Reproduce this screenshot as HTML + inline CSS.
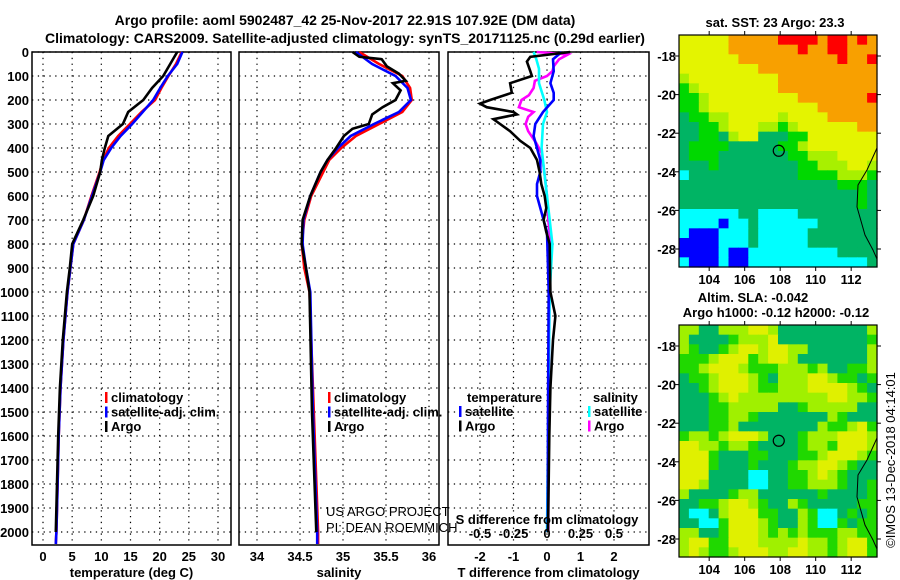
<!DOCTYPE html>
<html><head><meta charset="utf-8">
<style>
html,body{margin:0;padding:0;background:#fff;}
svg{display:block;font-family:"Liberation Sans",sans-serif;}
.b{font-weight:bold;font-size:13px;}
.t{font-weight:bold;font-size:14px;}
</style></head>
<body>
<svg id="chart" width="900" height="580" viewBox="0 0 900 580">
<text class="t" x="345" y="25" text-anchor="middle">Argo profile: aoml 5902487_42 25-Nov-2017 22.91S 107.92E (DM data)</text>
<text class="t" x="345" y="43" text-anchor="middle">Climatology: CARS2009. Satellite-adjusted climatology: synTS_20171125.nc (0.29d earlier)</text>
<g id="layer"></g>
</svg>
<script>
// ---- data ----
const depthT = [0,50,100,150,200,250,300,350,400,450,500,600,700,800,900,1000,1200,1400,1600,1800,2000,2050];
const tempClim = [23.8,22.8,21.5,20.3,19.2,16.9,14.9,12.9,11.3,10.3,9.7,8.3,7.0,5.2,4.7,4.2,3.5,3.0,2.7,2.5,2.3,2.2];
const tempSat  = [23.9,23.0,21.4,20.1,18.9,17.1,15.3,13.3,11.7,10.4,9.8,8.4,7.0,5.2,4.7,4.2,3.5,3.0,2.7,2.5,2.3,2.2];
const depthArgoT = [0,50,100,150,200,250,300,350,400,450,500,600,700,800,900,1000,1200,1400,1600,1800,2000];
const tempArgo = [23.0,21.8,20.6,18.7,17.2,14.6,13.7,11.2,10.6,10.1,9.8,8.6,6.9,5.0,4.6,4.1,3.4,2.9,2.6,2.4,2.2];

const depthS = [0,50,100,150,200,250,300,350,400,450,500,600,700,800,900,1000,1500,2000,2050];
const salClim = [35.19,35.42,35.69,35.78,35.80,35.69,35.42,35.15,34.98,34.84,34.77,34.63,34.55,34.52,34.55,34.61,34.66,34.71,34.71];
const salSat  = [35.15,35.34,35.61,35.75,35.79,35.65,35.36,35.09,34.94,34.82,34.74,34.62,34.54,34.53,34.57,34.62,34.65,34.70,34.70];
const depthArgoS = [0,20,30,60,90,120,130,160,200,230,260,300,320,350,400,450,500,600,700,800,900,1000,1500,2000];
const salArgo = [35.11,35.19,35.45,35.51,35.65,35.73,35.58,35.67,35.61,35.46,35.34,35.30,35.11,35.01,34.92,34.82,34.74,34.62,34.53,34.52,34.57,34.61,34.64,34.69];

const depthDT = [0,20,40,80,100,130,170,200,215,230,250,260,280,300,330,370,400,450,500,550,600,650,700,750,800,1000,1100,1200,1400,1600,2000];
const dTArgo = [0.69,-0.5,-0.6,-0.5,-0.45,-1.1,-1.05,-1.7,-2.0,-1.8,-1.0,-0.9,-1.6,-1.4,-1.1,-0.8,-0.5,-0.3,-0.22,-0.17,-0.07,-0.02,-0.1,-0.02,0.08,0.1,0.25,0.18,0.1,0.07,0.03];
const depthDTs = [0,30,80,130,170,200,250,300,350,400,450,500,550,600,650,700,750,1000,1500,2000];
const dTSat = [0.44,0.18,0.2,0.1,0.2,0.2,-0.12,-0.35,-0.4,-0.3,-0.2,-0.2,-0.3,-0.3,-0.2,-0.1,0.0,0.05,0.03,0.02];
const depthDS = [0,10,30,60,80,100,120,150,180,200,230,250,270,300,330,380,420,500,600,700,800,1000,1500,2000];
const dSArgo = [-0.077,0.157,0.09,0.05,0.04,0.0,-0.09,-0.1,-0.135,-0.19,-0.21,-0.1,-0.14,-0.16,-0.14,-0.08,-0.04,-0.02,0.0,0.01,0.03,0.02,0.01,0.01];
const depthDSs = [0,30,70,130,200,250,300,400,500,600,700,800,1000,1500,2000];
const dSSat = [-0.1,-0.08,-0.06,-0.06,-0.02,0.0,-0.03,-0.04,-0.02,0.0,0.02,0.04,0.02,0.01,0.0];

const depthTicks = [0,100,200,300,400,500,600,700,800,900,1000,1100,1200,1300,1400,1500,1600,1700,1800,1900,2000];
const tempTicks = [0,5,10,15,20,25,30];
const salTicks = [34,34.5,35,35.5,36];
const dTTicks = [-2,-1,0,1,2];
const dSTicks = [-0.5,-0.25,0,0.25,0.5];
const dSTickLabels = ["-0.5","-0.25","0","0.25","0.5"];
const latTicks = [-18,-20,-22,-24,-26,-28];
const lonTicks = [104,106,108,110,112];

const sstGrid = [
"yyyyyooooorrrrorroro","yyyyyoooooooroorrooo","yyyyyyooooooooooroor","yyyyyyyyoooooooooooo",
"lyyyyyyyyyoooooooooo","glyyyyyyyyoooooooooo","gglyyyyyyyyyooooooor","gglyyyyyyyyyyyoooooo",
"Gggllyyyyylyyyyooooo","GGgglyyyllglyyyyyyoo","GGggGlyyGGGggyyyyyyy","GggggGGGGGgglyyyyyyy",
"GgggGGGGGGGgglllyyyy","GGGgGGGGGGGGgglllyyl","cGGGGGGGGGGGgggglllg","GGGGGGGGGGGGGGGGgggG",
"GGGGGGGGGGGGGGGGGGgG","GGGGGGGGGGGGGGGGGGgG","ccccccGGccccGGGGGGGG","ccccbccGccccccGGGGGG",
"cbbbcccGcccccGGGGGGG","bbbbcccGcccccGGGGGGG","bbbbcbbcccccccccGGGG","cbbbcbbccccccccccccG"];
const slaGrid = [
"llGGlllyylGGGGGGGGGl","lGGGGglllyGGGGGGGGGg","lgGGglyylyyllGGGGGGl","ggglyyyglyylGGGGGGGl",
"gglyyylggglllglGGggl","GgglyyylgGlllyylggGg","GGglyyylgglllyyyylgG","GGGglylllllllllyyllg",
"GGGgglllllGGglllllGG","GGGggllgGGGGGGGlgGGG","GGGgglGGGGGGGGlgglyg","gllglyyylGGGglllyyyl",
"yyllgllgGGGGgllgyyyl","yyygGGGggGGGgglyyylg","yyygGGGgGGGgllyylgGG","yyyGGGGccGGgglylgGGG",
"yylGGGGccGGgglllgGGg","lGGGGgllGGGGGGgGGGGg","GGgglyylgGGlgGGGGGgg","GccGlyyyggGGlgccGgGg",
"GGccgyyylgGGlgccgGgg","llGGgyyylglglgggllgg","lyyggyyyllllyllglyyg","lylgglyyyllyyllglyyg"];

// ---- helpers ----
const NS = "http://www.w3.org/2000/svg";
const layer = document.getElementById('layer');
function mk(tag, attrs, parent){ const e=document.createElementNS(NS,tag); for(const k in attrs) e.setAttribute(k,attrs[k]); (parent||layer).appendChild(e); return e; }
const TOP=52, BOT=545;
const yD = d => 52 + d*0.24;

function panel(name, x0, x1, ticks, fx, tickLabels, xlabel, labelsAtBottom){
  const g = mk('g',{});
  
  
  depthTicks.forEach(d=>{
    const l = mk('line',{x1:x0,x2:x1,y1:yD(d),y2:yD(d),stroke:'#000','stroke-width':1.2,'stroke-dasharray':'1.3 4.5'},g);
    
    
  });
  ticks.forEach((t,i)=>{
    const x=fx(t);
    const l = mk('line',{x1:x,x2:x,y1:TOP,y2:BOT,stroke:'#000','stroke-width':1.2,'stroke-dasharray':'1.3 4.5'},g);
    
    
    if(labelsAtBottom){
      const tx = mk('text',{x:x,y:561,'text-anchor':'middle',class:'b'},g);
      tx.textContent = tickLabels ? tickLabels[i] : String(t);
      
      
    }
  });
  const r = mk('rect',{x:x0,y:TOP,width:x1-x0,height:BOT-TOP,fill:'none',stroke:'#000','stroke-width':1.5},g);
  
  
  if(xlabel){
    const t = mk('text',{x:(x0+x1)/2,y:577,'text-anchor':'middle',class:'b'},g);
    t.textContent = xlabel;
    
    
  }
  return g;
}
function series(g, depths, vals, fx, color, name){
  const pts = depths.map((d,i)=>fx(vals[i]).toFixed(1)+','+yD(d).toFixed(1)).join(' ');
  const p = mk('polyline',{points:pts,fill:'none',stroke:color,'stroke-width':2.6,'stroke-linejoin':'miter'},g);
  
  
}
function legend(g, x, y0, items){
  items.forEach((it,i)=>{
    const y = y0 + i*14.5;
    const m = mk('rect',{x:x,y:y-10,width:2.5,height:11,fill:it[1]},g);
    
    
    const t = mk('text',{x:x+6,y:y,class:'b'},g);
    t.textContent = it[0];
    
    
  });
}

// depth labels
depthTicks.forEach(d=>{
  const t = mk('text',{x:29,y:yD(d)+5,'text-anchor':'end',class:'b'});
  t.textContent = String(d);
  
  
});

// panel 1 temperature
const fT = v => 43 + v*5.833;
const g1 = panel('temperature-panel',32,231,tempTicks,fT,null,'temperature (deg C)',true);
series(g1,depthT,tempClim,fT,'#f00','temp-climatology-line');
series(g1,depthT,tempSat,fT,'#00f','temp-satellite-line');
series(g1,depthArgoT,tempArgo,fT,'#000','temp-argo-line');
legend(g1,105,402,[['climatology','#f00'],['satellite-adj. clim.','#00f'],['Argo','#000']]);

// panel 2 salinity
const fS = v => 257 + (v-34)*86;
const g2 = panel('salinity-panel',239,439,salTicks,fS,null,'salinity',true);
series(g2,depthS,salClim,fS,'#f00','sal-climatology-line');
series(g2,depthS,salSat,fS,'#00f','sal-satellite-line');
series(g2,depthArgoS,salArgo,fS,'#000','sal-argo-line');
legend(g2,328,402,[['climatology','#f00'],['satellite-adj. clim.','#00f'],['Argo','#000']]);
[['US ARGO PROJECT',516],['PI: DEAN ROEMMICH',532]].forEach(a=>{
  const t = mk('text',{x:326,y:a[1],'font-size':'13px',fill:'#000'},g2);
  t.textContent = a[0];
  
  
});

// panel 3 differences
const fDT = v => 547 + v*33.5;
const fDS = v => 547 + v*134;
const g3 = panel('difference-panel',448,649,dTTicks,fDT,null,'T difference from climatology',true);
series(g3,depthDS,dSArgo,fDS,'#f0f','sal-diff-argo-line');
series(g3,depthDSs,dSSat,fDS,'#0ff','sal-diff-satellite-line');
series(g3,depthDTs,dTSat,fDT,'#00f','temp-diff-satellite-line');
series(g3,depthDT,dTArgo,fDT,'#000','temp-diff-argo-line');
dSTicks.forEach((s,i)=>{
  const t = mk('text',{x:fDS(s),y:538,'text-anchor':'middle',class:'b'},g3);
  t.textContent = dSTickLabels[i];
  
  
});
const sdt = mk('text',{x:547,y:524,'text-anchor':'middle',class:'b'},g3);
sdt.textContent = 'S difference from climatology';


const th = mk('text',{x:467,y:402,class:'b'},g3); th.textContent='temperature';


const sh = mk('text',{x:593,y:402,class:'b'},g3); sh.textContent='salinity';


legend(g3,459,416,[['satellite','#00f'],['Argo','#000']]);
legend(g3,588,416,[['satellite','#0ff'],['Argo','#f0f']]);

// maps
const colors = {r:'#ff0000',o:'#f8a000',y:'#e4f400',l:'#a8f000',g:'#00d800',G:'#00b464',c:'#00ffff',b:'#0000ff'};
const slaColors = {r:'#ff0000',o:'#f8a000',y:'#e0f000',l:'#a0f000',g:'#20d800',G:'#00b464',c:'#00ffff',b:'#0000ff'};
function map(name, top, grid, pal, titles){
  const L=679,R=877,H=232, bot=top+H;
  const g = mk('g',{});
  
  
  const rows=grid.length, cols=grid[0].length, cw=(R-L)/cols, ch=H/rows;
  grid.forEach((row,ri)=>{
    for(let ci=0;ci<cols;ci++){
      const c = mk('rect',{x:(L+ci*cw).toFixed(2),y:(top+ri*ch).toFixed(2),width:(cw+0.6).toFixed(2),height:(ch+0.6).toFixed(2),fill:pal[row[ci]]},g);
      
      
    }
  });
  const lonX = lon => L + (lon-102.3)*17.75;
  const latY = lat => top + 21 + (-lat-18)*19.3;
  const coast = mk('polyline',{points:`${R},${top+113} ${R-10},${top+135} ${R-19},${top+150} ${R-20},${top+172} ${R-12},${top+200} ${R-4},${top+215} ${R},${top+224}`,fill:'none',stroke:'#000','stroke-width':1},g);
  
  
  const fr = mk('rect',{x:L,y:top,width:R-L,height:H,fill:'none',stroke:'#000','stroke-width':1.2},g);
  
  
  latTicks.forEach(t=>{
    const y=latY(t);
    mk('line',{x1:L-4,x2:L,y1:y,y2:y,stroke:'#000'},g);
    mk('line',{x1:R,x2:R+4,y1:y,y2:y,stroke:'#000'},g);
    const tx = mk('text',{x:L-3,y:y+5,'text-anchor':'end',class:'b'},g);
    tx.textContent = String(t);
    
    
  });
  lonTicks.forEach(t=>{
    const x=lonX(t);
    mk('line',{x1:x,x2:x,y1:top-4,y2:top,stroke:'#000'},g);
    mk('line',{x1:x,x2:x,y1:bot,y2:bot+4,stroke:'#000'},g);
    const tx = mk('text',{x:x,y:bot+17,'text-anchor':'middle',class:'b'},g);
    tx.textContent = String(t);
    
    
  });
  const m = mk('circle',{cx:lonX(107.92),cy:latY(-22.91),r:5.5,fill:'none',stroke:'#000','stroke-width':1.2},g);
  
  
  titles.forEach(tt=>{
    const t = mk('text',{x:tt[1],y:tt[2],'text-anchor':'middle',class:'b'},g);
    t.textContent = tt[0];
    
    
  });
}
map('sst-map',35,sstGrid,colors,[['sat. SST: 23 Argo: 23.3',775,27]]);
map('sla-map',325,slaGrid,slaColors,[['Altim. SLA: -0.042',753,302],['Argo h1000: -0.12 h2000: -0.12',776,317]]);

const cr = mk('text',{x:0,y:0,'font-size':'13px',transform:'translate(895,460) rotate(-90)','text-anchor':'middle'});
cr.textContent = '©IMOS 13-Dec-2018 04:14:01';


</script>
</body></html>
